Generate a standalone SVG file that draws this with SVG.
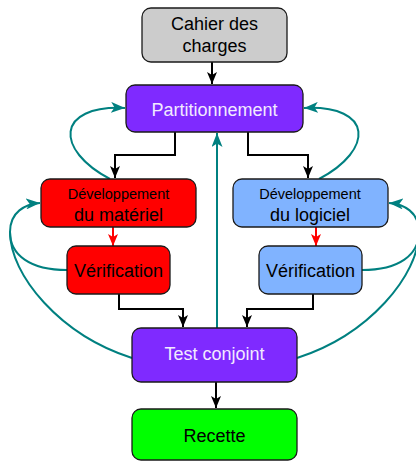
<svg xmlns="http://www.w3.org/2000/svg" width="416" height="461" viewBox="0 0 416 461">
<style>
.box{stroke:#1a1a1a;stroke-width:1.3}
.t{font-family:"Liberation Sans",Arial,sans-serif;text-anchor:middle;fill:#000}
.w{fill:#f2eaff}
.blk{fill:none;stroke:#000;stroke-width:2}
.red{fill:none;stroke:#ff0000;stroke-width:2}
.teal{fill:none;stroke:#008080;stroke-width:2}
</style>
<defs>
<marker id="ab" markerWidth="12" markerHeight="10" refX="12" refY="5" orient="auto" markerUnits="userSpaceOnUse"><path d="M0,0 L12,5 L0,10 L3,5 Z" fill="#000"/></marker>
<marker id="ar" markerWidth="12" markerHeight="10" refX="12" refY="5" orient="auto" markerUnits="userSpaceOnUse"><path d="M0,0 L12,5 L0,10 L3,5 Z" fill="#ff0000"/></marker>
<marker id="at" markerWidth="14" markerHeight="11" refX="14" refY="5.5" orient="auto" markerUnits="userSpaceOnUse"><path d="M0,0 L14,5.5 L0,11 L3.5,5.5 Z" fill="#008080"/></marker>
</defs>
<g id="connectors">
<path class="blk" d="M212,62 V84" marker-end="url(#ab)"/>
<path class="blk" d="M175,132 V155 H115 V178" marker-end="url(#ab)"/>
<path class="blk" d="M248,132 V155 H308 V178" marker-end="url(#ab)"/>
<path class="red" d="M113,227 V246" marker-end="url(#ar)"/>
<path class="red" d="M316,227 V246" marker-end="url(#ar)"/>
<path class="blk" d="M119,294 V309 H183 V327" marker-end="url(#ab)"/>
<path class="blk" d="M313,294 V309 H247 V327" marker-end="url(#ab)"/>
<path class="blk" d="M216,382 V408" marker-end="url(#ab)"/>
<path class="teal" d="M217,328 V133" marker-end="url(#at)"/>
<path class="teal" d="M110,179 C55,150 55,105 125,108" marker-end="url(#at)"/>
<path class="teal" d="M319,179 C374,150 374,105 304,108" marker-end="url(#at)"/>
<path class="teal" d="M67,270 C30,270 10,255 10,232 C10,212 25,204 40,203" marker-end="url(#at)"/>
<path class="teal" d="M132,358 C60,335 10,275 10,232"/>
<path class="teal" d="M362,270 C399,270 419,255 419,232 C419,212 404,204 389,203" marker-end="url(#at)"/>
<path class="teal" d="M297,358 C369,335 419,275 419,232"/>
</g>
<g id="cahier"><rect class="box" x="142" y="8" width="145" height="54" rx="9" fill="#cccccc"/><text class="t" x="214.5" y="30" font-size="18">Cahier des</text><text class="t" x="214.5" y="52" font-size="18">charges</text></g>
<g id="partitionnement"><rect class="box" x="126" y="85" width="177" height="47" rx="9" fill="#7f2aff"/><text class="t w" x="214.5" y="116" font-size="18">Partitionnement</text></g>
<g id="dev-materiel"><rect class="box" x="41" y="179" width="155" height="48" rx="9" fill="#ff0000"/><text class="t" x="118.5" y="199" font-size="14.5">Développement</text><text class="t" x="118.5" y="221" font-size="18">du matériel</text></g>
<g id="dev-logiciel"><rect class="box" x="233" y="179" width="155" height="48" rx="9" fill="#80b3ff"/><text class="t" x="310" y="199" font-size="14.5">Développement</text><text class="t" x="310" y="221" font-size="18">du logiciel</text></g>
<g id="verif-materiel"><rect class="box" x="67" y="246" width="103" height="48" rx="9" fill="#ff0000"/><text class="t" x="118.5" y="277" font-size="18">Vérification</text></g>
<g id="verif-logiciel"><rect class="box" x="259" y="246" width="103" height="48" rx="9" fill="#80b3ff"/><text class="t" x="310.5" y="277" font-size="18">Vérification</text></g>
<g id="test-conjoint"><rect class="box" x="132" y="328" width="165" height="54" rx="9" fill="#7f2aff"/><text class="t w" x="214.5" y="360" font-size="18">Test conjoint</text></g>
<g id="recette"><rect class="box" x="132" y="409" width="165" height="51" rx="9" fill="#00ff00"/><text class="t" x="214.5" y="442" font-size="18">Recette</text></g>
</svg>
